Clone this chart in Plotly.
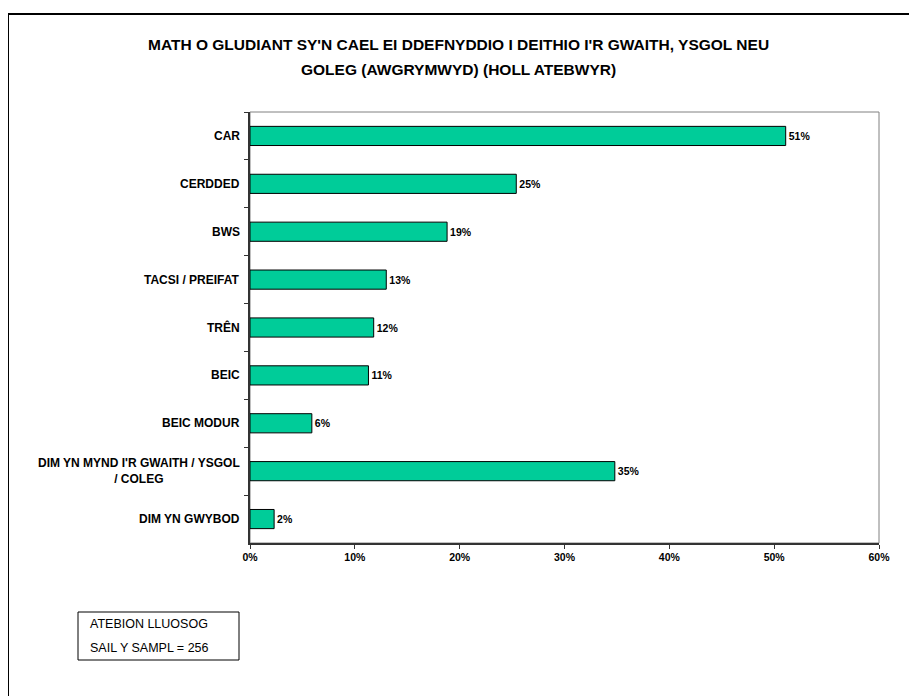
import plotly.graph_objects as go

# ---- data ----
categories = ["CAR", "CERDDED", "BWS", "TACSI / PREIFAT", "TRÊN", "BEIC",
              "BEIC MODUR", "DIM YN MYND I'R GWAITH / YSGOL<br>/ COLEG", "DIM YN GWYBOD"]
values = [51.1, 25.4, 18.8, 13.0, 11.8, 11.3, 5.9, 34.8, 2.3]
value_labels = ["51%", "25%", "19%", "13%", "12%", "11%", "6%", "35%", "2%"]
x_tick_vals = [0, 10, 20, 30, 40, 50, 60]
x_tick_text = ["0%", "10%", "20%", "30%", "40%", "50%", "60%"]
title_lines = ["MATH O GLUDIANT SY'N CAEL EI DDEFNYDDIO I DEITHIO I'R GWAITH, YSGOL NEU",
               "GOLEG (AWGRYMWYD) (HOLL ATEBWYR)"]
note_lines = ["ATEBION LLUOSOG", "SAIL Y SAMPL = 256"]

# ---- layout geometry (screen pixels; the page body adds an 8px offset) ----
OFF = 8
W, H = 917, 696
PLOT_L, PLOT_R, PLOT_T, PLOT_B = 250, 879, 112, 543   # screen coords
L = PLOT_L - OFF
T = PLOT_T - OFF
R = W - (PLOT_R - OFF)
B = H - (PLOT_B - OFF)
PW, PH = W - L - R, H - T - B


def px_x(x):
    return (x - OFF - L) / PW


def px_y(y):
    return (H - B - (y - OFF)) / PH


FONT = "Liberation Sans, Arial, Helvetica, sans-serif"
AXIS_COL = "#333333"

fig = go.Figure()
fig.add_trace(go.Bar(
    x=values, y=categories, orientation="h", width=0.4,
    marker=dict(color="#00CC99", line=dict(color="#000000", width=1)),
    text=value_labels, textposition="outside", cliponaxis=False,
    textfont=dict(family=FONT, size=10.5, color="#000000", weight="bold"),
    hoverinfo="skip",
))

annotations = []
for c in categories:
    annotations.append(dict(
        x=0, xref="paper", y=c, yref="y", xanchor="right", yanchor="middle",
        xshift=-8, text=c, showarrow=False, align="center",
        font=dict(family=FONT, size=12, color="#000000", weight="bold"),
    ))
for line, ypix in zip(title_lines, [45, 70]):
    annotations.append(dict(
        x=px_x(458), xref="paper", y=px_y(ypix), yref="paper",
        xanchor="center", yanchor="middle", text=line, showarrow=False,
        font=dict(family=FONT, size=15.5, color="#000000", weight="bold"),
    ))
for line, ypix in zip(note_lines, [624, 648]):
    annotations.append(dict(
        x=px_x(88), xref="paper", y=px_y(ypix), yref="paper",
        xanchor="left", yanchor="middle", text=line, showarrow=False,
        font=dict(family=FONT, size=12.5, color="#000000"),
    ))

shapes = [
    dict(type="rect", xref="paper", yref="paper", x0=0, x1=1, y0=0, y1=1,
         line=dict(color="#808080", width=1), layer="below"),
    dict(type="rect", xref="paper", yref="paper",
         x0=px_x(78), x1=px_x(239), y0=px_y(612), y1=px_y(660),
         line=dict(color="#000000", width=1)),
    dict(type="rect", xref="paper", yref="paper",
         x0=px_x(8), x1=px_x(1100), y0=px_y(14), y1=px_y(900),
         line=dict(color="#000000", width=2)),
]

fig.update_layout(
    width=W, height=H,
    margin=dict(l=L, r=R, t=T, b=B, pad=0),
    paper_bgcolor="white", plot_bgcolor="white",
    showlegend=False, bargap=0.6,
    annotations=annotations, shapes=shapes,
    xaxis=dict(
        range=[0, 60], tickvals=x_tick_vals, ticktext=x_tick_text,
        showgrid=False, zeroline=False,
        showline=True, linecolor=AXIS_COL, linewidth=1.5,
        ticks="outside", ticklen=4, tickcolor=AXIS_COL, tickwidth=1,
        tickfont=dict(family=FONT, size=10.5, color="#000000", weight="bold"),
        fixedrange=True,
    ),
    yaxis=dict(
        type="category", categoryorder="array", categoryarray=categories,
        autorange="reversed", showticklabels=False, showgrid=False,
        showline=True, linecolor=AXIS_COL, linewidth=1.5,
        ticks="outside", ticklen=4, tickcolor=AXIS_COL, tickwidth=1,
        tickson="boundaries", fixedrange=True,
    ),
)

fig.write_html("out.html")
